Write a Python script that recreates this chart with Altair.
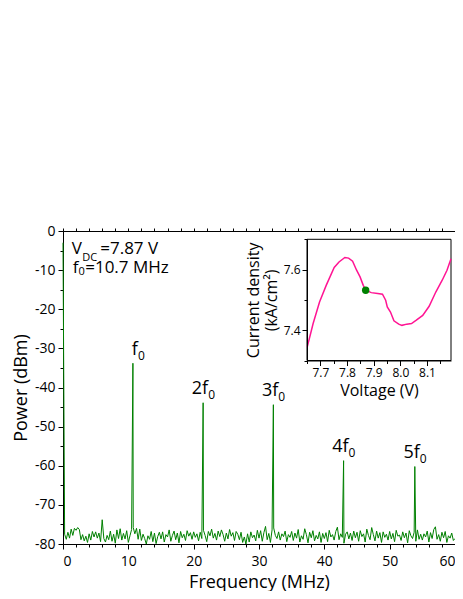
import altair as alt
import pandas as pd

# ---------------- data ----------------
# spectrum baseline, sampled every 0.25 MHz from 0 to 60 MHz (dBm)
noise_step = 0.25
noise_dbm = [
    -3.0, -77.5, -78.8, -77.0, -78.5, -76.2, -77.8, -76.0, -76.5, -75.8,
    -76.3, -78.9, -77.6, -79.2, -78.0, -79.6, -77.4, -79.0, -76.8, -78.2,
    -76.9, -78.5, -77.2, -79.4, -73.8, -78.6, -79.5, -77.8, -78.9, -76.7,
    -79.3, -77.5, -79.8, -76.4, -78.6, -76.1, -79.0, -77.3, -78.7, -76.6,
    -79.6, -77.9, -76.3, -75.8, -77.4, -76.0, -78.8, -76.2, -79.1, -77.5,
    -78.6, -80.0, -77.9, -78.8, -76.8, -79.4, -77.2, -79.9, -78.1, -77.0,
    -78.7, -76.9, -79.5, -77.6, -78.2, -76.4, -79.3, -77.8, -76.7, -78.9,
    -77.2, -79.7, -76.8, -78.4, -77.5, -79.1, -76.6, -78.0, -77.1, -78.8,
    -76.9, -78.3, -77.4, -79.2, -77.0, -78.6, -76.5, -77.8, -79.4, -76.8,
    -77.9, -76.2, -78.5, -77.3, -79.0, -76.7, -78.1, -76.4, -77.6, -79.3,
    -77.2, -78.7, -76.3, -78.0, -77.1, -79.1, -76.8, -77.5, -78.9, -77.0,
    -79.6, -78.2, -80.0, -77.4, -79.5, -76.9, -78.4, -77.7, -79.2, -76.5,
    -78.5, -76.6, -79.3, -77.1, -75.5, -78.9, -77.3, -79.6, -76.4, -75.9,
    -77.8, -78.6, -76.9, -79.0, -77.4, -78.1, -76.7, -79.4, -77.6, -78.3,
    -76.8, -79.1, -77.2, -78.5, -76.3, -79.5, -77.9, -78.8, -76.1, -77.6,
    -79.7, -77.0, -78.4, -76.6, -79.2, -77.8, -78.7, -76.9, -79.6, -77.3,
    -78.6, -77.1, -79.4, -76.5, -78.2, -77.6, -79.0, -76.8, -75.7, -78.9,
    -77.4, -78.3, -79.8, -77.5, -76.9, -78.7, -77.2, -79.1, -76.7, -78.4,
    -77.0, -79.3, -76.6, -78.1, -77.4, -79.5, -76.2, -77.8, -78.9, -75.8,
    -77.6, -79.2, -76.7, -78.5, -77.1, -79.6, -76.9, -78.3, -77.5, -79.0,
    -76.8, -78.7, -77.3, -79.4, -76.5, -78.0, -77.7, -79.1, -76.9, -78.4,
    -77.2, -79.7, -76.6, -77.9, -78.6, -77.0, -79.3, -76.4, -78.8, -77.5,
    -79.0, -77.4, -78.2, -76.7, -79.5, -77.1, -78.6, -76.3, -75.6, -78.8,
    -77.6, -79.3, -77.0, -78.4, -76.8, -79.6, -77.9, -78.5, -77.2, -79.1,
    -78.6,
]

# harmonic peaks
peak_freq = [10.7, 21.45, 32.2, 42.95, 53.85]
peak_dbm = [-33.8, -43.9, -44.4, -58.7, -60.2]
peak_text = ["f", "2f", "3f", "4f", "5f"]
peak_sub = ["0", "0", "0", "0", "0"]

# inset: current density vs voltage
inset_v = [7.651, 7.673, 7.697, 7.722, 7.752, 7.770, 7.792, 7.806, 7.821, 7.836,
           7.849, 7.861, 7.870, 7.891, 7.915, 7.933, 7.945, 7.951, 7.963, 7.976,
           7.994, 8.006, 8.024, 8.042, 8.060, 8.084, 8.108, 8.133, 8.157, 8.175, 8.19]
inset_j = [7.345, 7.422, 7.493, 7.548, 7.607, 7.625, 7.640, 7.638, 7.628, 7.598,
           7.576, 7.548, 7.532, 7.524, 7.521, 7.519, 7.499, 7.477, 7.460, 7.431,
           7.420, 7.416, 7.420, 7.422, 7.433, 7.449, 7.479, 7.526, 7.565, 7.598, 7.636]
op_v = [7.87]
op_j = [7.532]

# text annotations (main text / subscript)
note_big = ["V", "=7.87 V", "f", "=10.7 MHz"]
note_big_f = [1.33, 5.70, 1.48, 3.40]
note_big_p = [-6.0, -6.0, -10.7, -10.7]
note_small = ["DC", "0"]
note_small_f = [2.95, 2.37]
note_small_p = [-7.6, -11.2]

# ---------------- tables ----------------
base = pd.DataFrame({"freq": [i * noise_step for i in range(len(noise_dbm))],
                     "power": noise_dbm})
peaks = pd.DataFrame({"freq": peak_freq, "power": peak_dbm})
spec = pd.concat([base, peaks]).sort_values("freq", kind="stable").reset_index(drop=True)

labels = pd.DataFrame({"freq": peak_freq, "power": [p + 2.2 for p in peak_dbm],
                       "t": peak_text, "s": peak_sub})
inset = pd.DataFrame({"v": inset_v, "j": inset_j})
op = pd.DataFrame({"v": op_v, "j": op_j})
big = pd.DataFrame({"freq": note_big_f, "power": note_big_p, "t": note_big})
small = pd.DataFrame({"freq": note_small_f, "power": note_small_p, "t": note_small})
frame = pd.DataFrame({"v0": [7.65], "v1": [8.19], "j0": [7.3], "j1": [7.7]})

W, H = 392, 313
FONT = "Open Sans"
GREEN = "#008000"

xs = alt.Scale(domain=[0, 60], nice=False, zero=False)
ys = alt.Scale(domain=[-80, 0], nice=False, zero=False)

INX = [244, 388]
INY = [129.5, 8.3]
ixs = alt.Scale(domain=[7.65, 8.19], range=INX, nice=False, zero=False)
iys = alt.Scale(domain=[7.3, 7.7], range=INY, nice=False, zero=False)

x_axis = alt.Axis(
    orient="bottom", values=list(range(0, 61, 2)),
    labelExpr="datum.value % 10 === 0 ? datum.label : ''",
    tickSize={"condition": {"test": "datum.value % 10 === 0", "value": 5}, "value": 3},
    title="Frequency (MHz)", labelFontSize=14, titleFontSize=18,
    labelPadding=5, titlePadding=5, grid=False,
)
y_axis = alt.Axis(
    orient="left", values=list(range(-80, 1, 5)),
    labelExpr="datum.value % 10 === 0 ? toString(datum.value) : ''",
    tickSize={"condition": {"test": "datum.value % 10 === 0", "value": 5}, "value": 3},
    title="Power (dBm)", labelFontSize=14, titleFontSize=18,
    labelPadding=3, titlePadding=4, grid=False,
)
x_top = alt.Axis(orient="top", values=list(range(0, 61, 2)), labels=False, title=None,
                 tickSize=3, domain=False, grid=False)
y_right = alt.Axis(orient="right", values=list(range(-80, 1, 5)), labels=False, title=None,
                   tickSize=3, domain=False, grid=False)

spectrum = alt.Chart(spec).mark_line(color=GREEN, strokeWidth=1).encode(
    x=alt.X("freq:Q", scale=xs, axis=x_axis),
    y=alt.Y("power:Q", scale=ys, axis=y_axis),
    order="freq:Q",
)
mirror = alt.Chart(spec).mark_point(opacity=0).encode(
    x=alt.X("freq:Q", scale=xs, axis=x_top),
    y=alt.Y("power:Q", scale=ys, axis=y_right),
)
lab_main = alt.Chart(labels).mark_text(
    align="right", baseline="alphabetic", fontSize=18, font=FONT, color="black", dx=5
).encode(x=alt.X("freq:Q", scale=xs, axis=None), y=alt.Y("power:Q", scale=ys, axis=None), text="t:N")
lab_sub = alt.Chart(labels).mark_text(
    align="left", baseline="alphabetic", fontSize=12, font=FONT, color="black", dx=5, dy=5
).encode(x=alt.X("freq:Q", scale=xs, axis=None), y=alt.Y("power:Q", scale=ys, axis=None), text="s:N")
note1 = alt.Chart(big).mark_text(
    align="left", baseline="alphabetic", fontSize=17, font=FONT, color="black"
).encode(x=alt.X("freq:Q", scale=xs, axis=None), y=alt.Y("power:Q", scale=ys, axis=None), text="t:N")
note2 = alt.Chart(small).mark_text(
    align="left", baseline="alphabetic", fontSize=11, font=FONT, color="black"
).encode(x=alt.X("freq:Q", scale=xs, axis=None), y=alt.Y("power:Q", scale=ys, axis=None), text="t:N")

# ---------------- inset ----------------
ix_axis = alt.Axis(
    orient="bottom", offset=-(H - INY[0]),
    values=[7.65, 7.7, 7.75, 7.8, 7.85, 7.9, 7.95, 8.0, 8.05, 8.1, 8.15],
    labelExpr="abs(datum.value*10 - round(datum.value*10)) < 0.001 ? format(datum.value, '.1f') : ''",
    tickSize={"condition": {"test": "abs(datum.value*10 - round(datum.value*10)) < 0.001", "value": 5}, "value": 3},
    title="Voltage (V)", labelFontSize=12, titleFontSize=16, labelPadding=2, titlePadding=4,
    grid=False, zindex=2,
)
iy_axis = alt.Axis(
    orient="left", offset=-INX[0],
    values=[7.3, 7.4, 7.5, 7.6, 7.7],
    labelExpr="abs(datum.value*5 - round(datum.value*5)) < 0.001 ? format(datum.value, '.1f') : ''",
    tickSize={"condition": {"test": "abs(datum.value*5 - round(datum.value*5)) < 0.001", "value": 5}, "value": 3},
    title=["Current density", "(kA/cm²)"], labelFontSize=12, titleFontSize=16,
    labelPadding=2, titlePadding=4, grid=False, zindex=2,
)

inset_box = alt.Chart(frame).mark_rect(fill="white", stroke="black", strokeWidth=1).encode(
    x=alt.X("v0:Q", scale=ixs, axis=None), x2="v1:Q",
    y=alt.Y("j0:Q", scale=iys, axis=None), y2="j1:Q",
)
inset_line = alt.Chart(inset).mark_line(color="#ff1493", strokeWidth=1.5).encode(
    x=alt.X("v:Q", scale=ixs, axis=ix_axis),
    y=alt.Y("j:Q", scale=iys, axis=iy_axis),
    order="v:Q",
)
inset_pt = alt.Chart(op).mark_circle(color=GREEN, size=55, opacity=1).encode(
    x=alt.X("v:Q", scale=ixs, axis=None),
    y=alt.Y("j:Q", scale=iys, axis=None),
)

chart = alt.layer(
    spectrum, mirror, lab_main, lab_sub, note1, note2, inset_box, inset_line, inset_pt
).resolve_scale(x="independent", y="independent").resolve_axis(
    x="independent", y="independent"
).properties(
    width=W, height=H,
    autosize=alt.AutoSizeParams(type="none"),
    padding={"left": 55, "top": 223, "right": 0, "bottom": 47},
    background="white",
).configure_view(
    stroke="black", strokeWidth=1
).configure_axis(
    labelFont=FONT, titleFont=FONT, labelColor="black", titleColor="black",
    domainColor="black", tickColor="black", titleFontWeight="normal",
    domainWidth=1, tickWidth=1,
)

chart.save("out.html", embed_options={"renderer": "svg", "actions": False})
